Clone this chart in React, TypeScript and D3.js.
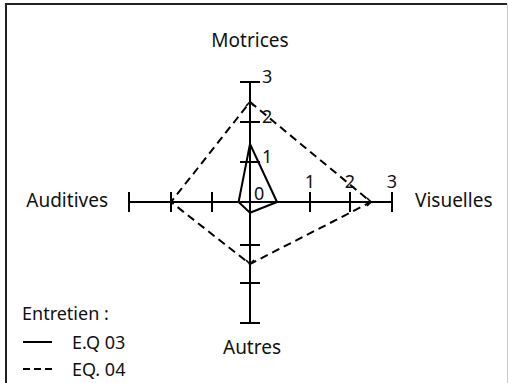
import React from 'react';
import * as d3 from 'd3';

// axes, clockwise from the top
const axisNames = ['Motrices', 'Visuelles', 'Autres', 'Auditives'];
const eq03 = [1.45, 0.45, 0.25, 0.3];
const eq04 = [2.5, 2.5, 1.5, 2];
const tickValues = [1, 2, 3];
const legendTitle = 'Entretien :';
const seriesNames = ['E.Q 03', 'EQ. 04'];

const width = 509;
const height = 383;
const cx = 250;
const cy = 202;
const font = '"Noto Sans", "Open Sans", sans-serif';

// the source figure was hand drawn, so each axis has its own spacing
const axisRanges = [
	[0, 40, 80, 120],
	[0, 60, 100, 142],
	[0, 43, 81, 121],
	[0, 38, 79, 121],
];
const dirs = [
	[0, -1],
	[1, 0],
	[0, 1],
	[-1, 0],
];

const scales = axisRanges.map((r) => d3.scaleLinear().domain([0, 1, 2, 3]).range(r));

const pt = (i: number, v: number): [number, number] => {
	const r = scales[i](v);
	return [cx + dirs[i][0] * r, cy + dirs[i][1] * r];
};

function App() {
	const ref = React.useRef<SVGSVGElement>(null);

	React.useEffect(() => {
		const svg = d3.select(ref.current);
		svg.selectAll('*').remove();

		// frame
		svg
			.append('path')
			.attr('d', `M6,${height} V4 H507`)
			.attr('fill', 'none')
			.attr('stroke', '#222')
			.attr('stroke-width', 2);
		svg
			.append('line')
			.attr('x1', 507.5)
			.attr('x2', 507.5)
			.attr('y1', 4)
			.attr('y2', height)
			.attr('stroke', '#ccc')
			.attr('stroke-width', 1);

		const g = svg.append('g');

		// axis lines
		axisNames.forEach((name, i) => {
			const [x2, y2] = pt(i, 3);
			g.append('line')
				.attr('x1', cx)
				.attr('y1', cy)
				.attr('x2', x2)
				.attr('y2', y2)
				.attr('stroke', '#000')
				.attr('stroke-width', 2);

			tickValues.forEach((t) => {
				const [x, y] = pt(i, t);
				const px = -dirs[i][1] * 10;
				const py = dirs[i][0] * 10;
				g.append('line')
					.attr('x1', x - px)
					.attr('y1', y - py)
					.attr('x2', x + px)
					.attr('y2', y + py)
					.attr('stroke', '#000')
					.attr('stroke-width', 2);
			});
		});

		// tick labels on Motrices (right of axis) and Visuelles (above axis)
		const lab = g
			.append('g')
			.attr('font-family', font)
			.attr('font-size', 18)
			.attr('fill', '#111');
		tickValues.forEach((t) => {
			const [, y] = pt(0, t);
			lab.append('text').attr('x', 262).attr('y', y + 1).text(t);
			const [x] = pt(1, t);
			lab
				.append('text')
				.attr('x', x)
				.attr('y', cy - 14 - (t === 3 ? 0 : 0))
				.attr('text-anchor', 'middle')
				.text(t);
		});
		lab.append('text').attr('x', 254).attr('y', cy - 2).text(0);

		// polygons
		const line = d3
			.line<number>()
			.x((d, i) => pt(i, d)[0])
			.y((d, i) => pt(i, d)[1])
			.curve(d3.curveLinearClosed);

		g.append('path')
			.attr('d', line(eq03))
			.attr('fill', 'none')
			.attr('stroke', '#000')
			.attr('stroke-width', 2)
			.attr('stroke-linejoin', 'round');

		g.append('path')
			.attr('d', line(eq04))
			.attr('fill', 'none')
			.attr('stroke', '#000')
			.attr('stroke-width', 2)
			.attr('stroke-dasharray', '8 5');

		// small arrowheads on the dashed series
		[0, 1, 2].forEach((i) => {
			const [x, y] = pt(i, eq04[i]);
			const [dx, dy] = dirs[i];
			const s = 4;
			g.append('path')
				.attr(
					'd',
					`M${x - dx * s - dy * s},${y - dy * s + dx * s} L${x},${y} L${x - dx * s + dy * s},${y - dy * s - dx * s}`
				)
				.attr('fill', 'none')
				.attr('stroke', '#000')
				.attr('stroke-width', 1.6);
		});

		// axis names
		const names = g
			.append('g')
			.attr('font-family', font)
			.attr('font-size', 19)
			.attr('fill', '#111');
		names.append('text').attr('x', cx).attr('y', 47).attr('text-anchor', 'middle').text(axisNames[0]);
		names.append('text').attr('x', 415).attr('y', 207).text(axisNames[1]);
		names.append('text').attr('x', 252).attr('y', 354).attr('text-anchor', 'middle').text(axisNames[2]);
		names.append('text').attr('x', 108).attr('y', 207).attr('text-anchor', 'end').text(axisNames[3]);

		// legend
		const leg = g
			.append('g')
			.attr('font-family', font)
			.attr('font-size', 18)
			.attr('fill', '#111');
		leg.append('text').attr('x', 22).attr('y', 320).text(legendTitle);
		seriesNames.forEach((s, i) => {
			const y = 342 + i * 27;
			leg
				.append('line')
				.attr('x1', 23)
				.attr('x2', 52)
				.attr('y1', y)
				.attr('y2', y)
				.attr('stroke', '#000')
				.attr('stroke-width', 2)
				.attr('stroke-dasharray', i === 0 ? null : '7 4');
			leg.append('text').attr('x', 72).attr('y', y + 7).text(s);
		});
	}, []);

	return (
		<svg
			ref={ref}
			width={width}
			height={height}
			style={{ position: 'absolute', left: 0, top: 0, background: '#fff' }}
		/>
	);
}

export default App;
